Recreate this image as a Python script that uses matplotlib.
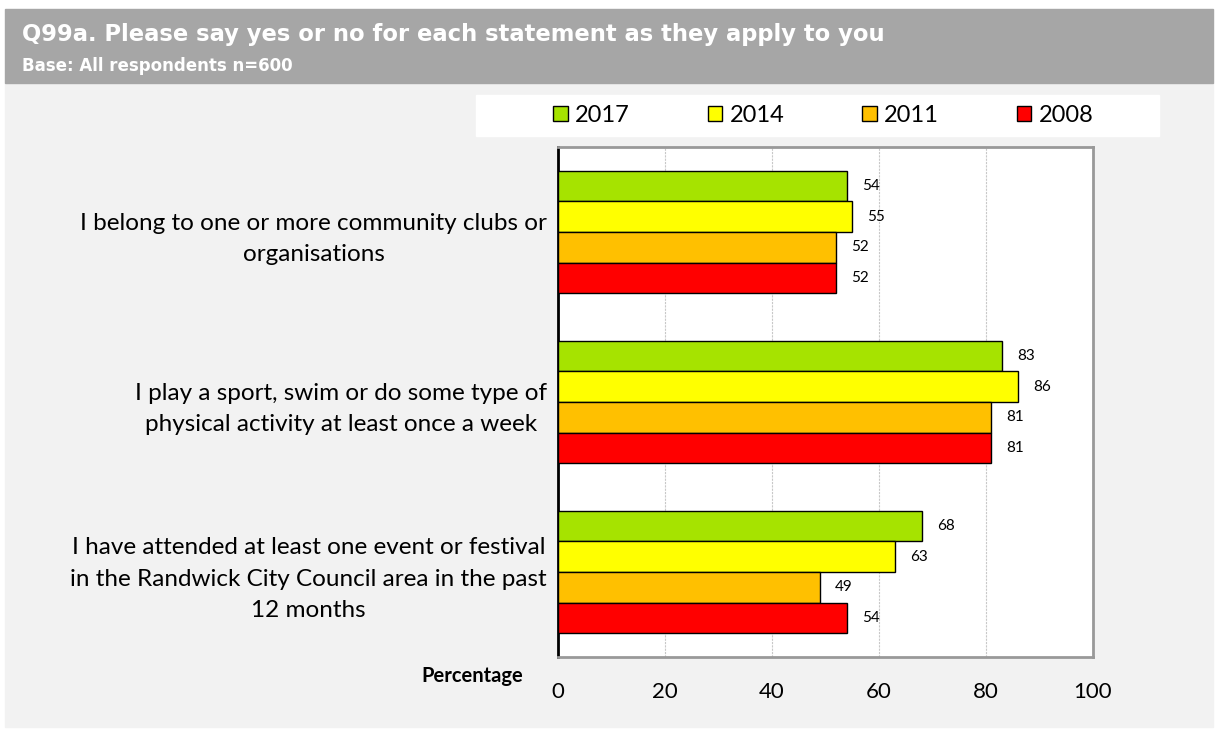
import numpy as np
import matplotlib.pyplot as plt
from matplotlib.patches import Rectangle

statements = [
    "I belong to one or more community clubs or\norganisations",
    "I play a sport, swim or do some type of\nphysical activity at least once a week",
    "I have attended at least one event or festival\nin the Randwick City Council area in the past\n12 months",
]
years = ["2017", "2014", "2011", "2008"]
values = {
    "2017": [54, 83, 68],
    "2014": [55, 86, 63],
    "2011": [52, 81, 49],
    "2008": [52, 81, 54],
}
colors = {"2017": "#a6e300", "2014": "#ffff00", "2011": "#ffc000", "2008": "#ff0000"}

plt.rcParams['font.family'] = ['Lato', 'DejaVu Sans']

W, H = 1215, 731
fig = plt.figure(figsize=(W / 100, H / 100), dpi=100)
fig.patch.set_facecolor("white")


def fx(x):
    return x / W


def fy(y):
    return 1 - y / H


# panel background and header band
fig.patches.append(Rectangle((fx(5), fy(727)), fx(1208), (727 - 83) / H,
                             transform=fig.transFigure, color="#f2f2f2", zorder=-2))
fig.patches.append(Rectangle((fx(5), fy(83)), fx(1208), (83 - 9) / H,
                             transform=fig.transFigure, color="#a6a6a6", zorder=-2))
fig.text(fx(22), fy(34), "Q99a. Please say yes or no for each statement as they apply to you",
         color="white", fontsize=16.3, fontweight="bold", va="center",
         family=["DejaVu Sans"])
fig.text(fx(22), fy(66), "Base: All respondents n=600", color="white", fontsize=12,
         fontweight="bold", va="center", family=["DejaVu Sans"])

# legend strip
fig.patches.append(Rectangle((fx(476), fy(136)), fx(1159 - 476), (136 - 95) / H,
                             transform=fig.transFigure, color="white", zorder=-1))

ax = fig.add_axes([fx(558), fy(657), fx(1093 - 558), (657 - 147) / H])
ax.set_zorder(2)
ax.set_facecolor("white")

n = len(years)
bar_h = 0.18
y = np.arange(len(statements))
handles = []
for i, yr in enumerate(years):
    pos = y - (n - 1) / 2 * bar_h + i * bar_h
    b = ax.barh(pos, values[yr], height=bar_h, color=colors[yr],
                edgecolor="black", linewidth=1, zorder=3, label=yr)
    handles.append(b)
    for p, v in zip(pos, values[yr]):
        ax.text(v + 2.8, p, str(v), va="center", ha="left", fontsize=11, zorder=4)

ax.set_xlim(0, 100)
ax.set_ylim(len(statements) - 0.5, -0.5)
ax.set_xticks(np.arange(0, 101, 20))
ax.set_yticks(y)
ax.set_yticklabels(statements, multialignment="center", fontsize=17.5, linespacing=1.6)
ax.tick_params(axis="y", length=0, pad=8)
ax.tick_params(axis="x", length=0, labelsize=16, pad=18)
ax.xaxis.grid(True, color="#c8c8c8", linestyle=(0, (2, 1)), linewidth=0.8, zorder=0)
ax.spines["left"].set_color("black")
ax.spines["left"].set_linewidth(2)
for s in ["top", "right", "bottom"]:
    ax.spines[s].set_color("#999999")
    ax.spines[s].set_linewidth(2)

fig.text(fx(523), fy(676), "Percentage", fontsize=14.5, fontweight="bold",
         ha="right", va="center")

fig.legend(handles=handles, labels=years, loc="center left",
           bbox_to_anchor=(fx(544), fy(115.5)), ncol=4, frameon=False,
           fontsize=17, handlelength=0.62, handleheight=0.62, handletextpad=0.3,
           columnspacing=3.3, borderaxespad=0)

fig.savefig("out.png", dpi=100)
